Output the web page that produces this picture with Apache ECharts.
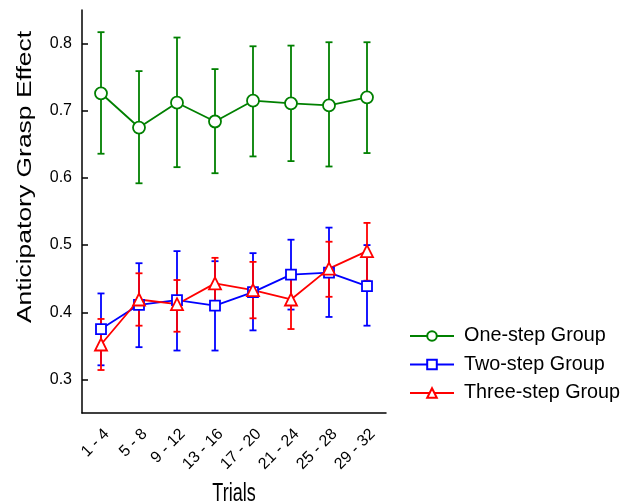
<!DOCTYPE html>
<html>
<head>
<meta charset="utf-8">
<script src="https://cdn.jsdelivr.net/npm/echarts@6/dist/echarts.min.js"></script>
<style>
html,body{margin:0;padding:0;background:#fff;}
#chart{width:621px;height:504px;}
</style>
</head>
<body>
<div id="chart"></div>
<script>
var categories = ['1 - 4','5 - 8','9 - 12','13 - 16','17 - 20','21 - 24','25 - 28','29 - 32'];
var yTicks = [0.3, 0.4, 0.5, 0.6, 0.7, 0.8];

var oneStepMean = [0.726, 0.675, 0.712, 0.684, 0.715, 0.711, 0.708, 0.720];
var oneStepLow  = [0.636, 0.592, 0.616, 0.607, 0.632, 0.625, 0.617, 0.637];
var oneStepHigh = [0.817, 0.759, 0.809, 0.762, 0.796, 0.797, 0.802, 0.802];

var twoStepMean = [0.375, 0.411, 0.418, 0.410, 0.430, 0.456, 0.459, 0.439];
var twoStepLow  = [0.321, 0.348, 0.343, 0.343, 0.373, 0.404, 0.393, 0.380];
var twoStepHigh = [0.428, 0.473, 0.491, 0.476, 0.488, 0.508, 0.526, 0.500];

var threeStepMean = [0.352, 0.419, 0.412, 0.443, 0.433, 0.419, 0.465, 0.491];
var threeStepLow  = [0.314, 0.380, 0.371, 0.405, 0.391, 0.375, 0.423, 0.447];
var threeStepHigh = [0.390, 0.458, 0.448, 0.481, 0.475, 0.463, 0.505, 0.533];

var FONT = 'Liberation Sans, Arial, Helvetica, sans-serif';

function errData(low, high) {
  return low.map(function (l, i) { return [i, l, high[i]]; });
}
function errSeries(name, low, high, color) {
  return {
    type: 'custom',
    name: name,
    data: errData(low, high),
    encode: { x: 0, y: [1, 2] },
    silent: true,
    renderItem: function (params, api) {
      var i = api.value(0);
      var top = api.coord([i, api.value(2)]);
      var bot = api.coord([i, api.value(1)]);
      var hw = 3.5;
      var st = { stroke: color, lineWidth: 1.8 };
      return {
        type: 'group',
        children: [
          { type: 'line', shape: { x1: top[0], y1: top[1], x2: bot[0], y2: bot[1] }, style: st },
          { type: 'line', shape: { x1: top[0] - hw, y1: top[1], x2: top[0] + hw, y2: top[1] }, style: st },
          { type: 'line', shape: { x1: bot[0] - hw, y1: bot[1], x2: bot[0] + hw, y2: bot[1] }, style: st }
        ]
      };
    }
  };
}
function lineSeries(name, data, color, symbol, size) {
  return {
    type: 'line',
    name: name,
    data: data,
    symbol: symbol,
    symbolSize: size,
    showAllSymbol: true,
    lineStyle: { color: color, width: 1.8 },
    itemStyle: { color: '#fff', borderColor: color, borderWidth: 1.8 },
    emphasis: { disabled: true },
    animation: false
  };
}

var chart = echarts.init(document.getElementById('chart'), null, { renderer: 'canvas' });
chart.setOption({
  animation: false,
  backgroundColor: '#fff',
  grid: { left: 82, right: 235, top: 10, bottom: 91, containLabel: false },
  xAxis: {
    type: 'category',
    data: categories,
    boundaryGap: true,
    axisLine: { lineStyle: { color: '#000', width: 1.5 } },
    axisTick: { inside: true, alignWithLabel: true, length: 6, lineStyle: { color: '#000', width: 1.5 } },
    axisLabel: { rotate: 45, margin: 13, fontSize: 16, color: '#000', fontFamily: FONT, interval: 0, verticalAlign: 'top' },
    splitLine: { show: false }
  },
  yAxis: {
    type: 'value',
    min: 0.25,
    max: 0.85,
    axisLine: { show: true, lineStyle: { color: '#000', width: 1.5 } },
    axisTick: { show: true, inside: true, length: 6, customValues: yTicks, lineStyle: { color: '#000', width: 1.5 } },
    axisLabel: { margin: 10, fontSize: 16, color: '#000', fontFamily: FONT, customValues: yTicks,
      formatter: function (v) { return v.toFixed(1); } },
    splitLine: { show: false }
  },
  legend: {
    orient: 'vertical',
    left: 409,
    top: 326,
    padding: 0,
    itemWidth: 44,
    itemHeight: 12,
    itemGap: 8.5,
    data: ['One-step Group', 'Two-step Group', 'Three-step Group'],
    textStyle: { fontSize: 19.8, fontFamily: FONT, color: '#000', padding: [0, 0, 0, 5], lineHeight: 20 },
    selectedMode: false
  },
  graphic: [
    { type: 'text', x: 25, y: 177, rotation: Math.PI / 2, scaleX: 1.26,
      style: { text: 'Anticipatory Grasp Effect', fontSize: 21, fontFamily: FONT, fill: '#000', align: 'center', verticalAlign: 'middle' } },
    { type: 'text', x: 234, y: 494, scaleY: 1.47,
      style: { text: 'Trials', fontSize: 18, fontFamily: FONT, fill: '#000', align: 'center', verticalAlign: 'middle' } }
  ],
  series: [
    errSeries('oneErr', oneStepLow, oneStepHigh, '#008000'),
    lineSeries('One-step Group', oneStepMean, '#008000', 'circle', 12),
    errSeries('twoErr', twoStepLow, twoStepHigh, '#0000ff'),
    lineSeries('Two-step Group', twoStepMean, '#0000ff', 'rect', 10),
    errSeries('threeErr', threeStepLow, threeStepHigh, '#ff0000'),
    lineSeries('Three-step Group', threeStepMean, '#ff0000', 'triangle', 12)
  ]
});
</script>
</body>
</html>
